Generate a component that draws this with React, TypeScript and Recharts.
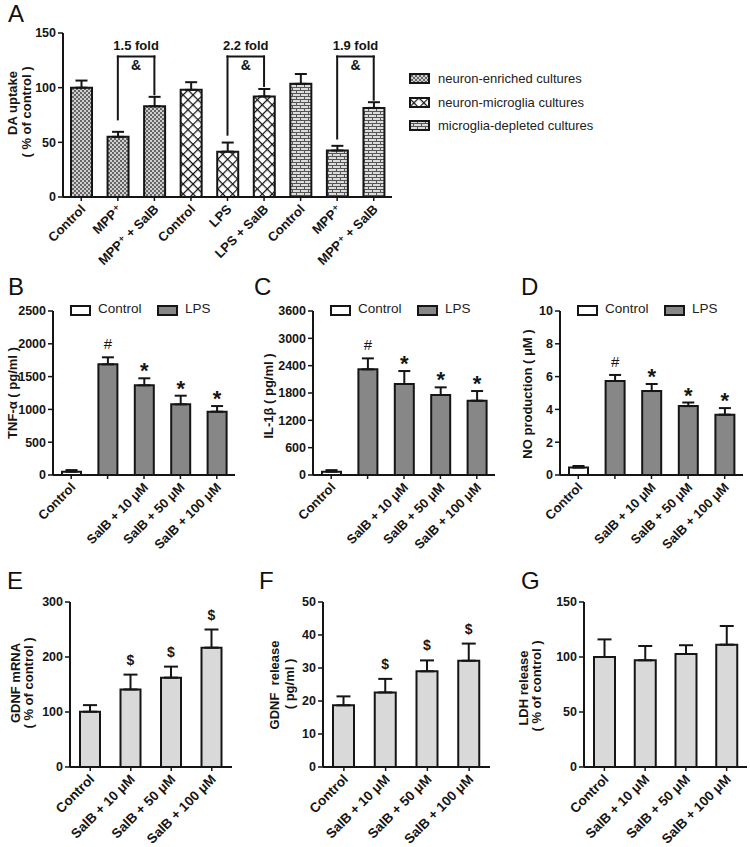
import React from "react";
import { BarChart, Bar, XAxis, YAxis, ErrorBar, Cell, LabelList, ReferenceLine } from "recharts";

const FONT = '"Liberation Sans", Arial, "DejaVu Sans", sans-serif';
const INK = "#151515";

// ---- panel A: DA uptake ----
const aKeys = ["a0", "a1", "a2", "a3", "a4", "a5", "a6", "a7", "a8"];
const aLabels = ["Control", "MPP⁺", "MPP⁺ + SalB", "Control", "LPS", "LPS + SalB", "Control", "MPP⁺", "MPP⁺ + SalB"];
const aGroups = [0, 0, 0, 1, 1, 1, 2, 2, 2];
const aValues = [100, 55, 83, 98, 41.5, 92, 103.5, 42.5, 81.5];
const aErrors = [6.5, 4.6, 8.6, 7, 8.3, 6.8, 9, 4.3, 5.2];
const aGroupNames = ["neuron-enriched cultures", "neuron-microglia cultures", "microglia-depleted cultures"];
const aTicks = [0, 50, 100, 150];
const aBrackets = [
  { from: 1, to: 2, top: 128.5, leftEnd: 71, rightEnd: 94, fold: "1.5 fold" },
  { from: 4, to: 5, top: 128.5, leftEnd: 57, rightEnd: 101.5, fold: "2.2 fold" },
  { from: 7, to: 8, top: 128.5, leftEnd: 53.5, rightEnd: 89, fold: "1.9 fold" },
];

// ---- panels B-D: LPS stimulation ----
const lpsKeys = ["ctl", "lps", "s10", "s50", "s100"];
const lpsLabels = ["Control", "", "SalB + 10 μM", "SalB + 50 μM", "SalB + 100 μM"];
const lpsMarks = ["", "#", "*", "*", "*"];
const lpsFills = ["#ffffff", "#878787", "#878787", "#878787", "#878787"];
const tnfValues = [50, 1687, 1367, 1077, 965];
const tnfErrors = [25, 107, 107, 132, 86];
const tnfTicks = [0, 500, 1000, 1500, 2000, 2500];
const il1Values = [72, 2319, 1997, 1756, 1631];
const il1Errors = [35, 241, 285, 168, 212];
const il1Ticks = [0, 600, 1200, 1800, 2400, 3000, 3600];
const noValues = [0.45, 5.73, 5.12, 4.2, 3.68];
const noErrors = [0.1, 0.37, 0.43, 0.22, 0.4];
const noTicks = [0, 2, 4, 6, 8, 10];

// ---- panels E-G: SalB alone ----
const salbKeys = ["ctl", "s10", "s50", "s100"];
const salbLabels = ["Control", "SalB + 10 μM", "SalB + 50 μM", "SalB + 100 μM"];
const salbMarks = ["", "$", "$", "$"];
const salbFills = ["#d9d9d9", "#d9d9d9", "#d9d9d9", "#d9d9d9"];
const mrnaValues = [100.5, 141, 162.5, 217];
const mrnaErrors = [12, 27, 20, 33];
const mrnaTicks = [0, 100, 200, 300];
const gdnfValues = [18.7, 22.6, 29, 32.2];
const gdnfErrors = [2.7, 4.1, 3.3, 5.2];
const gdnfTicks = [0, 10, 20, 30, 40, 50];
const ldhValues = [100, 97, 102.7, 111.2];
const ldhErrors = [16, 13, 8, 17];
const ldhMarks = ["", "", "", ""];
const ldhTicks = [0, 50, 100, 150];

const MARK_STYLE: Record<string, { size: number; weight: number; gap: number }> = {
  "#": { size: 15, weight: 400, gap: 8 },
  "*": { size: 22, weight: 700, gap: 0 },
  "$": { size: 14, weight: 700, gap: 10 },
};

const axisLine = { stroke: INK, strokeWidth: 2 };
const tickLine = { stroke: INK, strokeWidth: 1.5 };
const yTick = { fontSize: 12.5, fontWeight: 700, fill: INK, fontFamily: FONT };

function buildRows(keys: string[], values: number[], errors: number[], marks: string[]) {
  return keys.map((k, i) => ({ key: k, value: values[i], err: [0, errors[i]], mark: marks[i] || "" }));
}

function RotTick(props: any) {
  const { x, y, payload, keys, labels, size } = props;
  const i = keys.indexOf(payload?.value);
  const text = i >= 0 ? labels[i] : "";
  if (!text) return <g />;
  const ax = x + 5;
  const ay = y + 7;
  return (
    <text x={ax} y={ay} transform={`rotate(-45 ${ax} ${ay})`} textAnchor="end"
      fontFamily={FONT} fontSize={size} fontWeight={700} fill={INK}>
      {text}
    </text>
  );
}

function markRenderer(rows: any[]) {
  return (p: any) => {
    const vb = p.viewBox || p;
    const i = typeof p.index === "number" ? p.index : rows.findIndex((r) => r.value === p.value);
    const row = rows[i];
    if (!row || !row.mark) return null;
    const st = MARK_STYLE[row.mark];
    const h = Math.abs(vb.height);
    const top = Math.min(vb.y, vb.y + vb.height);
    const errPx = row.value ? (h / row.value) * row.err[1] : 0;
    return (
      <text x={vb.x + vb.width / 2} y={top - errPx - st.gap} textAnchor="middle"
        fontFamily={FONT} fontSize={st.size} fontWeight={st.weight} fill={INK}>
        {row.mark}
      </text>
    );
  };
}

function YLabel({ cx, cy, text }: { cx: number; cy: number; text: string }) {
  return (
    <div style={{
      position: "absolute", left: cx, top: cy, transform: "translate(-50%, -50%) rotate(-90deg)",
      whiteSpace: "pre", fontFamily: FONT, fontWeight: 700, fontSize: 13, color: INK, lineHeight: 1,
    }}>{text}</div>
  );
}

function Letter({ x, y, text }: { x: number; y: number; text: string }) {
  return (
    <div style={{ position: "absolute", left: x, top: y, fontFamily: FONT, fontSize: 24, lineHeight: 1, color: "#111" }}>
      {text}
    </div>
  );
}

type PanelProps = {
  left: number; top: number; width: number; height: number;
  plotTop: number; yWidth: number; right: number; xHeight: number;
  keys: string[]; labels: string[]; values: number[]; errors: number[]; marks: string[]; fills: string[];
  ticks: number[]; barSize: number; cap: number; labelSize: number;
};

function Panel(p: PanelProps) {
  const rows = buildRows(p.keys, p.values, p.errors, p.marks);
  const max = p.ticks[p.ticks.length - 1];
  return (
    <div style={{ position: "absolute", left: p.left, top: p.top }}>
      <BarChart width={p.width} height={p.height} data={rows}
        margin={{ top: p.plotTop, right: p.right, left: 0, bottom: 0 }}>
        <XAxis dataKey="key" interval={0} height={p.xHeight} axisLine={axisLine} tickLine={tickLine} tickSize={4}
          tick={(t: any) => <RotTick {...t} keys={p.keys} labels={p.labels} size={p.labelSize} />} />
        <YAxis width={p.yWidth} domain={[0, max]} ticks={p.ticks} interval={0} axisLine={axisLine}
          tickLine={tickLine} tickSize={5} tickMargin={2} tick={yTick} />
        <Bar dataKey="value" barSize={p.barSize} stroke={INK} strokeWidth={2} isAnimationActive={false}>
          {rows.map((r, i) => <Cell key={r.key} fill={p.fills[i]} />)}
          <ErrorBar dataKey="err" width={p.cap} stroke={INK} strokeWidth={2} direction="y" />
          <LabelList dataKey="value" content={markRenderer(rows)} />
        </Bar>
      </BarChart>
    </div>
  );
}

function LpsLegend({ axisX }: { axisX: number }) {
  const box = (x: number, fill: string) => (
    <div style={{ position: "absolute", left: x, top: 305, width: 17, height: 7, border: `2px solid ${INK}`, background: fill }} />
  );
  const label = (x: number, t: string) => (
    <div style={{ position: "absolute", left: x, top: 302, fontFamily: FONT, fontSize: 13.5, lineHeight: 1, color: "#222" }}>{t}</div>
  );
  return (
    <>
      {box(axisX + 17, "#fff")}
      {label(axisX + 45, "Control")}
      {box(axisX + 104, "#878787")}
      {label(axisX + 132, "LPS")}
    </>
  );
}

const patternIds = ["patDots", "patCross", "patBrick"];

function PanelA() {
  const rows = buildRows(aKeys, aValues, aErrors, aKeys.map(() => ""));
  return (
    <div style={{ position: "absolute", left: 0, top: 0 }}>
      <BarChart width={400} height={270} data={rows} margin={{ top: 33, right: 8, left: 0, bottom: 0 }}>
        <XAxis dataKey="key" interval={0} height={73} axisLine={axisLine} tickLine={tickLine} tickSize={4}
          tick={(t: any) => <RotTick {...t} keys={aKeys} labels={aLabels} size={13} />} />
        <YAxis width={63} domain={[0, 150]} ticks={aTicks} interval={0} axisLine={axisLine}
          tickLine={tickLine} tickSize={5} tickMargin={2} tick={yTick} />
        <Bar dataKey="value" barSize={21} stroke={INK} strokeWidth={2} isAnimationActive={false}>
          {rows.map((r, i) => <Cell key={r.key} fill={`url(#${patternIds[aGroups[i]]})`} />)}
          <ErrorBar dataKey="err" width={6} stroke={INK} strokeWidth={2} direction="y" />
        </Bar>
        {aBrackets.map((b) => (
          <ReferenceLine key={b.fold} segment={[{ x: aKeys[b.from], y: b.top }, { x: aKeys[b.to], y: b.top }]}
            stroke={INK} strokeWidth={2} strokeLinecap="square"
            label={{ value: b.fold, position: "top", offset: 7, fill: INK, fontSize: 13, fontWeight: 700, fontFamily: FONT }} />
        ))}
        {aBrackets.map((b) => (
          <ReferenceLine key={b.fold + "amp"} segment={[{ x: aKeys[b.from], y: b.top }, { x: aKeys[b.to], y: b.top }]}
            stroke="none"
            label={{ value: "&", position: "bottom", offset: 4, fill: INK, fontSize: 14, fontWeight: 700, fontFamily: FONT }} />
        ))}
        {aBrackets.map((b) => (
          <ReferenceLine key={b.fold + "l"} segment={[{ x: aKeys[b.from], y: b.top }, { x: aKeys[b.from], y: b.leftEnd }]}
            stroke={INK} strokeWidth={2} strokeLinecap="square" />
        ))}
        {aBrackets.map((b) => (
          <ReferenceLine key={b.fold + "r"} segment={[{ x: aKeys[b.to], y: b.top }, { x: aKeys[b.to], y: b.rightEnd }]}
            stroke={INK} strokeWidth={2} strokeLinecap="square" />
        ))}
      </BarChart>
    </div>
  );
}

function LegendA() {
  const rowsY = [73, 97, 120];
  return (
    <>
      {aGroupNames.map((name, i) => (
        <React.Fragment key={name}>
          <svg style={{ position: "absolute", left: 409, top: rowsY[i] }} width={21} height={11}>
            <rect x={1} y={1} width={19} height={9} fill={`url(#${patternIds[i]})`} stroke={INK} strokeWidth={2} />
          </svg>
          <div style={{ position: "absolute", left: 438, top: rowsY[i] - 1, fontFamily: FONT, fontSize: 13, lineHeight: 1, color: "#222" }}>
            {name}
          </div>
        </React.Fragment>
      ))}
    </>
  );
}

export default function App() {
  return (
    <div style={{ position: "absolute", left: 0, top: 0, width: 750, height: 847, overflow: "hidden", background: "#fff" }}>
      <svg width={0} height={0} style={{ position: "absolute" }}>
        <defs>
          <pattern id="patDots" width={4} height={4} patternUnits="userSpaceOnUse">
            <rect width={4} height={4} fill="#cfcfcf" />
            <rect x={0} y={0} width={2} height={2} fill="#666" />
            <rect x={2} y={2} width={2} height={2} fill="#666" />
          </pattern>
          <pattern id="patCross" width={7} height={7} patternUnits="userSpaceOnUse" patternTransform="rotate(45)">
            <rect width={7} height={7} fill="#fff" />
            <path d="M0 0 H7 M0 0 V7" stroke="#111" strokeWidth={2.4} />
          </pattern>
          <pattern id="patBrick" width={8} height={6} patternUnits="userSpaceOnUse">
            <rect width={8} height={6} fill="#dcdcdc" />
            <path d="M0 0.5 H8 M0 3.5 H8 M0.5 0 V3 M4.5 3 V6" stroke="#555" strokeWidth={1} />
          </pattern>
        </defs>
      </svg>

      <PanelA />
      <LegendA />
      <Letter x={8} y={2} text="A" />
      <YLabel cx={12} cy={103} text="DA uptake" />
      <YLabel cx={26} cy={112} text="( % of control )" />

      <Panel left={0} top={270} width={250} height={290} plotTop={41} yWidth={53} right={15} xHeight={85}
        keys={lpsKeys} labels={lpsLabels} values={tnfValues} errors={tnfErrors} marks={lpsMarks} fills={lpsFills}
        ticks={tnfTicks} barSize={19} cap={6} labelSize={13} />
      <Panel left={245} top={270} width={255} height={290} plotTop={41} yWidth={68} right={5} xHeight={85}
        keys={lpsKeys} labels={lpsLabels} values={il1Values} errors={il1Errors} marks={lpsMarks} fills={lpsFills}
        ticks={il1Ticks} barSize={19} cap={6} labelSize={13} />
      <Panel left={490} top={270} width={258} height={290} plotTop={41} yWidth={70} right={5} xHeight={85}
        keys={lpsKeys} labels={lpsLabels} values={noValues} errors={noErrors} marks={lpsMarks} fills={lpsFills}
        ticks={noTicks} barSize={19} cap={6} labelSize={13} />
      <LpsLegend axisX={53} />
      <LpsLegend axisX={313} />
      <LpsLegend axisX={560} />
      <Letter x={8} y={275} text="B" />
      <Letter x={254} y={275} text="C" />
      <Letter x={521} y={275} text="D" />
      <YLabel cx={12} cy={393} text="TNF-α ( pg/ml )" />
      <YLabel cx={268} cy={396} text="IL-1β ( pg/ml )" />
      <YLabel cx={527} cy={394} text="NO production ( μM )" />

      <Panel left={0} top={540} width={245} height={307} plotTop={62} yWidth={70} right={13} xHeight={80}
        keys={salbKeys} labels={salbLabels} values={mrnaValues} errors={mrnaErrors} marks={salbMarks} fills={salbFills}
        ticks={mrnaTicks} barSize={20} cap={7} labelSize={13.5} />
      <Panel left={245} top={540} width={250} height={307} plotTop={62} yWidth={78} right={5} xHeight={80}
        keys={salbKeys} labels={salbLabels} values={gdnfValues} errors={gdnfErrors} marks={salbMarks} fills={salbFills}
        ticks={gdnfTicks} barSize={21} cap={7} labelSize={13.5} />
      <Panel left={490} top={540} width={258} height={307} plotTop={62} yWidth={94} right={1} xHeight={80}
        keys={salbKeys} labels={salbLabels} values={ldhValues} errors={ldhErrors} marks={ldhMarks} fills={salbFills}
        ticks={ldhTicks} barSize={21} cap={7} labelSize={13.5} />
      <Letter x={7} y={569} text="E" />
      <Letter x={259} y={569} text="F" />
      <Letter x={521} y={569} text="G" />
      <YLabel cx={15} cy={683} text="GDNF mRNA" />
      <YLabel cx={28} cy={683} text="( % of control )" />
      <YLabel cx={274} cy={685} text="GDNF  release" />
      <YLabel cx={289} cy={684} text="( pg/ml )" />
      <YLabel cx={523} cy={688} text="LDH release" />
      <YLabel cx={536} cy={686} text="( % of control )" />
    </div>
  );
}
